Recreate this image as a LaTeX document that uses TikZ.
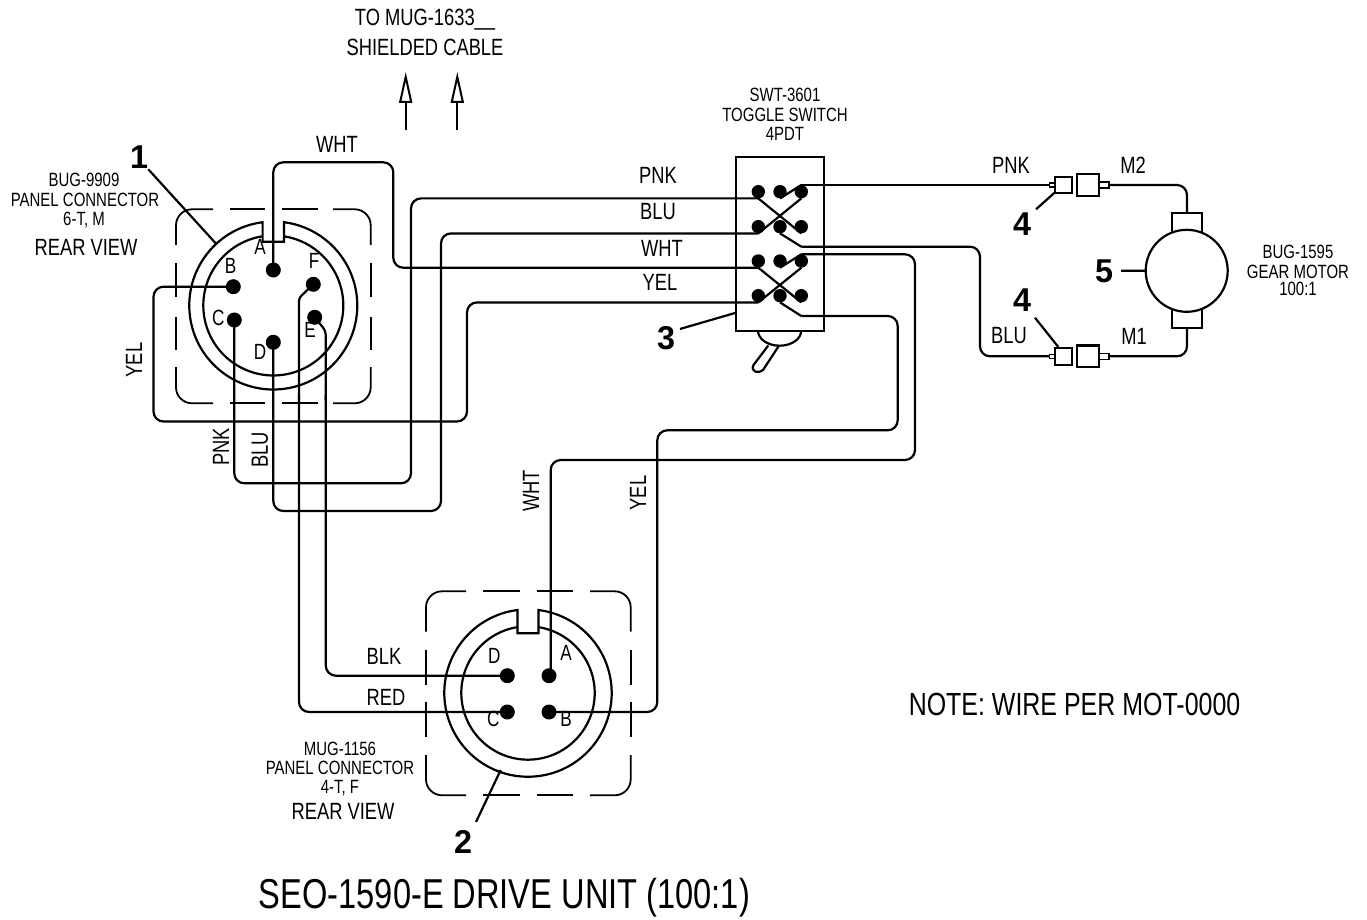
\documentclass[tikz,border=0pt]{standalone}
\usepackage{fontspec}
\setmainfont[FakeStretch=0.78]{Liberation Sans}
\newfontfamily\numfont[FakeStretch=0.98]{Liberation Sans}
\usetikzlibrary{arrows.meta}
\tikzset{
  wire/.style={line width=2.2pt,rounded corners=10pt},
  thin line/.style={line width=2.2pt},
  dashline/.style={line width=1.8pt,rounded corners=16pt},
  pinnode/.style={circle,fill=black,inner sep=0pt,outer sep=0pt,minimum size=15pt},
  swpin/.style={circle,fill=black,inner sep=0pt,outer sep=0pt,minimum size=13.4pt},
  part/.style={draw=black,line width=2.2pt,fill=white,inner sep=0pt,outer sep=0pt},
  lbl/.style={inner sep=0pt,font=\fontsize{23.5}{25}\selectfont},
  sm/.style={inner sep=0pt,font=\fontsize{19.2}{21}\selectfont},
  pinl/.style={inner sep=0pt,font=\fontsize{22}{24}\selectfont},
  num/.style={inner sep=0pt,font=\numfont\fontsize{33}{36}\bfseries\selectfont},
  big/.style={inner sep=0pt,font=\fontsize{32}{34}\selectfont},
  huge text/.style={inner sep=0pt,font=\fontsize{41.8}{44}\selectfont},
  cable/.style={line width=2.2pt,-{Triangle[open,length=31pt,width=13pt,line width=2pt]}}
}
\begin{document}
\begin{tikzpicture}[x=1pt,y=-1pt]
\useasboundingbox (0,0) rectangle (1367,920);
% connector 1 dashed box
\draw[dashline] (176,245) |- (213,209.3);
\draw[dashline] (333,209.3) -| (370.7,245);
\draw[dashline] (176,367) |- (213,403.3);
\draw[dashline] (333,403.3) -| (370.7,367);
\draw[line width=1.8pt] (230,209.3)--(265,209.3) (281.7,209.3)--(318.3,209.3)
  (230,403.3)--(265,403.3) (281.7,403.3)--(318.3,403.3)
  (176,263)--(176,297) (176,317)--(176,350)
  (370.7,263)--(370.7,297) (370.7,317)--(370.7,350);
% connector 1 rings
\draw[line width=2.2pt] (262.6,222.2) arc[start angle=97.3,end angle=442.7,radius=84pt] -- (284,241.7) -- (262.6,241.7) -- cycle;
\draw[line width=2.2pt] (262.6,236.3) arc[start angle=98.8,end angle=441.2,radius=70pt];
% connector 2 dashed box
\draw[dashline] (426,631.7) |- (466,591.3);
\draw[dashline] (590,591.3) -| (630.7,631.7);
\draw[dashline] (426,755) |- (466,795.3);
\draw[dashline] (590,795.3) -| (630.7,755);
\draw[line width=1.8pt] (483.3,591.3)--(520,591.3) (536.7,591.3)--(573.3,591.3)
  (483.3,795.3)--(520,795.3) (536.7,795.3)--(573.3,795.3)
  (426,650)--(426,685) (426,701.7)--(426,736.7)
  (630.7,650)--(630.7,685) (630.7,701.7)--(630.7,736.7);
% connector 2 rings
\draw[line width=2.2pt] (517.5,610) arc[start angle=97.2,end angle=442.8,radius=83.7pt] -- (538.5,633.3) -- (517.5,633.3) -- cycle;
\draw[line width=2.2pt] (517.5,627.1) arc[start angle=99.06,end angle=440.94,radius=66.7pt];
% pins
\node[pinnode] (pA) at (273.3,270) {};
\node[pinnode] (pB) at (233.3,286.7) {};
\node[pinnode] (pF) at (313.3,284.3) {};
\node[pinnode] (pC) at (234.3,320) {};
\node[pinnode] (pE) at (314.7,317.3) {};
\node[pinnode] (pD) at (273.3,342.3) {};
\node[pinnode] (qA) at (549,675.7) {};
\node[pinnode] (qD) at (507.3,675.7) {};
\node[pinnode] (qC) at (507.3,712) {};
\node[pinnode] (qB) at (549,712) {};
% switch
\node[part,minimum width=88pt,minimum height=174pt] (sw) at (780,243.7) {};
\draw[line width=2.2pt] (758,330.7) arc[start angle=180,end angle=360,x radius=21.6pt,y radius=15pt];
\draw[line width=2.2pt] (768.3,345.5) -- (753.5,365) .. controls (750,372) and (759,374) .. (763,370) -- (778.3,346.7);
\foreach \r/\y in {1/191.7,2/226.7,3/261,4/295.7}{
  \node[swpin] (s\r1) at (758.3,\y) {};
  \node[swpin] (s\r2) at (780,\y) {};
  \node[swpin] (s\r3) at (801.3,\y) {};
}
\coordinate (v2) at (801.3,246.7);
\coordinate (v4) at (801.3,316);
\draw[thin line] (s11.south)--(s23.south) (s21.south)--(s13.south);
\draw[thin line] (s31.south)--(s43.south) (s41.south)--(s33.south);
\draw[thin line] (s12.south)--(s13.north) (s22.south)--(v2);
\draw[thin line] (s32.south)--(s33.north) (s42.south)--(v4);
% motor
\node[part,minimum width=29.4pt,minimum height=19pt] (bt) at (1187,222.8) {};
\node[part,minimum width=29.4pt,minimum height=19pt] (bb) at (1187,318.2) {};
\node[part,circle,minimum size=82pt] (mot) at (1186.7,270.8) {};
% inline connectors
\foreach \n/\y in {1/185,2/356.3}{
  \node[part,line width=1.6pt,minimum width=5.7pt,minimum height=4pt] (j\n s) at (1052.2,\y) {};
  \node[part,minimum width=16.7pt,minimum height=16.7pt] (j\n a) at (1063.3,\y) {};
  \node[part,minimum width=22.3pt,minimum height=21.7pt] (j\n b) at (1087.8,\y) {};
  \node[part,line width=1.6pt,minimum width=10pt,minimum height=6pt] (j\n r) at (1104,\y) {};
}
% wires
\draw[wire] (pA.center) -- (273.3,162.3) -- (393.3,162.3) -- (393.3,267.7) -- (s31.south);
\draw[wire] (pB.center) -- (153.5,286.7) -- (153.5,421.5) -- (467,421.5) -- (467,302.4) -- (s41.south);
\draw[wire] (pC.center) -- (234.3,483.3) -- (411,483.3) -- (411,198.4) -- (s11.south);
\draw[wire] (pD.center) -- (273.3,511) -- (441,511) -- (441,233.4) -- (s21.south);
\draw[line width=2.2pt,rounded corners=3pt] (pF.center) -- (299,298) -- (299,400);
\draw[wire] (299,395) -- (299,712) -- (qC.center);
\draw[line width=2.2pt,rounded corners=4pt] (pE.center) -- (325.8,331) -- (325.8,400);
\draw[wire] (325.8,395) -- (325.8,675.7) -- (qD.center);
\coordinate (qAw) at (550.7,675.7);
\draw[wire] (s33.north) -- (915,254.3) -- (915,460) -- (550.7,460) -- (qAw);
\draw[wire] (v4) -- (897.7,316) -- (897.7,430.3) -- (657.3,430.3) -- (657.3,712) -- (qB.center);
\draw[wire] (s13.north) -- (j1s.west);
\draw[wire] (v2) -- (980,246.7) -- (980,356.3) -- (j2s.west);
\draw[wire] (j1r.east) -- (1187,185) -- (bt.north);
\draw[wire] (j2r.east) -- (1187,356.3) -- (bb.south);
% cable arrows
\coordinate (ca1) at (405.7,130); \coordinate (cb1) at (405.7,72);
\coordinate (ca2) at (457.3,130); \coordinate (cb2) at (457.3,72);
\draw[cable] (ca1) -- (cb1);
\draw[cable] (ca2) -- (cb2);
% leaders
\node[num] (n1) at (139,157) {1};
\node[num] (n2) at (463,842) {2};
\node[num] (n3) at (666,338) {3};
\node[num] (n4a) at (1022,224) {4};
\node[num] (n4b) at (1022,300) {4};
\node[num] (n5) at (1104,271) {5};
\coordinate (l1a) at (148.3,169.3); \coordinate (l1b) at (215.7,243.3);
\coordinate (l2a) at (476,822); \coordinate (l2b) at (500.7,770);
\coordinate (l3a) at (680,329); \coordinate (l3b) at (736,312.7);
\coordinate (l4a) at (1036,209.3); \coordinate (l4b) at (1055,192.3);
\coordinate (l4c) at (1035,317.7); \coordinate (l4d) at (1058.3,347);
\coordinate (l5a) at (1121,270.7);
\draw[thin line] (l1a)--(l1b) (l2a)--(l2b) (l3a)--(l3b) (l4a)--(l4b) (l4c)--(l4d) (l5a)--(mot.west);
% pin letters
\node[pinl] (tA) at (260,247) {A};
\node[pinl] (tB) at (230.7,265.7) {B};
\node[pinl] (tF) at (314,260.7) {F};
\node[pinl] (tC) at (218.3,317.7) {C};
\node[pinl] (tE) at (310,330) {E};
\node[pinl] (tD) at (260,351.7) {D};
\node[pinl] (uD) at (494.3,655.7) {D};
\node[pinl] (uA) at (566,653.3) {A};
\node[pinl] (uC) at (493.3,719.3) {C};
\node[pinl] (uB) at (566,719.3) {B};
% labels
\node[lbl] (x1) at (425,20) {TO MUG-1633\_\_};
\node[lbl] (x2) at (425,47) {SHIELDED CABLE};
\node[lbl] (w1) at (337,144) {WHT};
\node[lbl] (w2) at (658,175) {PNK};
\node[lbl] (w3) at (658,212) {BLU};
\node[lbl] (w4) at (662,248) {WHT};
\node[lbl] (w5) at (660,282) {YEL};
\node[lbl] (w6) at (1011,165) {PNK};
\node[lbl] (w7) at (1133,165) {M2};
\node[lbl] (w8) at (1009,336) {BLU};
\node[lbl] (w9) at (1134,336) {M1};
\node[lbl] (w10) at (384,656) {BLK};
\node[lbl] (w11) at (386,697) {RED};
\node[lbl,rotate=90] (r1) at (134,360) {YEL};
\node[lbl,rotate=90] (r2) at (221,447) {PNK};
\node[lbl,rotate=90] (r3) at (260,450) {BLU};
\node[lbl,rotate=90] (r4) at (531,491) {WHT};
\node[lbl,rotate=90] (r5) at (638,493) {YEL};
\node[sm] (a1) at (785,95) {SWT-3601};
\node[sm] (a2) at (785,115) {TOGGLE SWITCH};
\node[sm] (a3) at (785,134) {4PDT};
\node[sm] (b1) at (84,180) {BUG-9909};
\node[sm] (b2) at (85,200) {PANEL CONNECTOR};
\node[sm] (b3) at (84,220) {6-T, M};
\node[lbl] (b4) at (86,247) {REAR VIEW};
\node[sm] (c1) at (340,749) {MUG-1156};
\node[sm] (c2) at (340,768) {PANEL CONNECTOR};
\node[sm] (c3) at (340,788) {4-T, F};
\node[lbl] (c4) at (343,811) {REAR VIEW};
\node[sm] (d1) at (1298,252) {BUG-1595};
\node[sm] (d2) at (1298,272) {GEAR MOTOR};
\node[sm] (d3) at (1298,289) {100:1};
\node[big] (note) at (1074.5,704) {NOTE: WIRE PER MOT-0000};
\node[huge text] (title) at (504.5,898) {SEO-1590-E DRIVE UNIT (100:1)};
\end{tikzpicture}
\end{document}
